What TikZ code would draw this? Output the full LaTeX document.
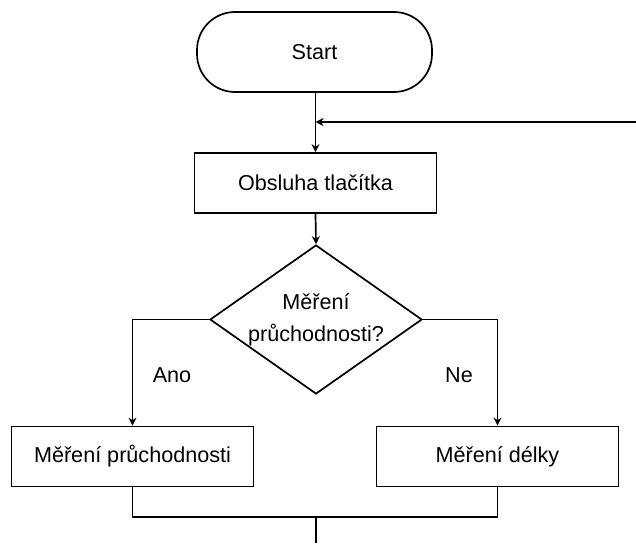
\documentclass[tikz,border=0pt]{standalone}
\usepackage{fontspec}
\setmainfont{Liberation Sans}
\usetikzlibrary{shapes.geometric,arrows.meta}
\begin{document}
\begin{tikzpicture}[x=1pt,y=-1pt,
  line width=1.7pt,
  every node/.style={font=\fontsize{21.6}{26}\selectfont},
  proc/.style={draw,rectangle,minimum width=242pt,minimum height=60pt,inner sep=0pt},
  term/.style={draw,rounded corners=38pt,minimum width=235pt,minimum height=80pt,inner sep=0pt},
  decide/.style={draw,diamond,minimum width=212pt,minimum height=149pt,inner sep=0pt,
    aspect=1.42,align=center,font=\fontsize{21.6}{32}\selectfont},
  flow/.style={-{Stealth[length=8pt,width=8pt,inset=2.5pt]}},
  lbl/.style={inner sep=0pt}]
\useasboundingbox (0,0) rectangle (636,543);

\node[term]   (start) at (314.5,52)  {Start};
\node[proc]   (btn)   at (315.5,183) {Obsluha tlačítka};
\node[decide] (q)     at (316,319.5) {Měření\\průchodnosti?};
\node[proc]   (prut)  at (132.5,456.5) {Měření průchodnosti};
\node[proc]   (delka) at (497.5,456.5) {Měření délky};

\coordinate (ret)  at (636,122);
\coordinate (join) at (316,517);
\coordinate (out)  at (316,543);

% main line and return loop
\draw[flow] (start.south -| btn.north) -- (btn.north);
\draw[flow] (ret) -- (ret -| btn.north);
\draw[flow] (btn.south) -- (q.north);

% branches
\draw[flow] (q.west) -| (prut.north);
\draw[flow] (q.east) -| (delka.north);
\node[lbl] at (172,375) {Ano};
\node[lbl] at (459,375) {Ne};

% merge
\draw (prut.south) |- (join) -| (delka.south);
\draw (join) -- (out);
\end{tikzpicture}
\end{document}
